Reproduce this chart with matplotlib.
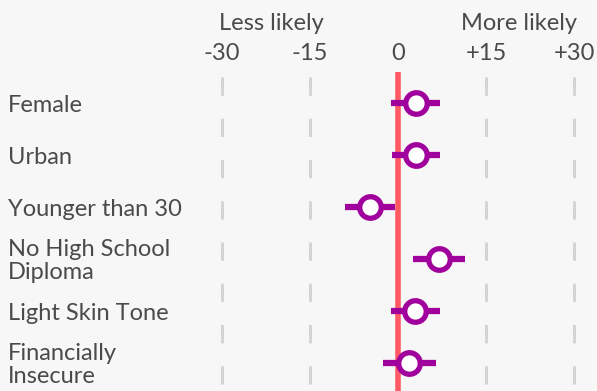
import matplotlib
matplotlib.use("Agg")
import matplotlib.pyplot as plt

categories = ["Female", "Urban", "Younger than 30", "No High School\nDiploma",
              "Light Skin Tone", "Financially\nInsecure"]
estimates = [3.1, 3.1, -4.8, 7.0, 2.9, 1.9]
ci_low = [-1.2, -1.0, -9.0, 2.6, -1.2, -2.6]
ci_high = [7.2, 7.2, -0.5, 11.4, 7.2, 6.5]
tick_values = [-30, -15, 0, 15, 30]
tick_labels = ["-30", "-15", "0", "+15", "+30"]

BG = "#f7f7f7"
TXT = "#4a4a4a"
RED = "#ff5964"
PURPLE = "#a0009b"
GRID = "#d4d4d4"

plt.rcParams['font.family'] = ['Lato', 'DejaVu Sans']

W, H = 597, 391
fig = plt.figure(figsize=(W / 100, H / 100), dpi=100, facecolor=BG)
ax = fig.add_axes([0, 0, 1, 1])
ax.set_facecolor(BG)
ax.axis('off')

# pixel mapping: x0 at 398px, 15 units = 88px; row0 at 103px, 52px per row
px_per_unit = 88 / 15
ax.set_xlim(-398 / px_per_unit, (W - 398) / px_per_unit)
ax.set_ylim((H - 103) / 52, -103 / 52)

def ypix(p):
    return (p - 103) / 52

ybottom = ypix(H + 5)
for v in tick_values:
    if v == 0:
        continue
    ax.plot([v, v], [ypix(77), ybottom], color=GRID, lw=2.2,
            linestyle=(0, (6, 7.5)), solid_capstyle='butt', zorder=1)
ax.plot([0, 0], [ypix(72), ybottom], color=RED, lw=4, zorder=2,
        solid_capstyle='butt')

rows = list(range(len(categories)))
for i in rows:
    ax.plot([ci_low[i], ci_high[i]], [i, i], color=PURPLE, lw=4.5,
            solid_capstyle='butt', zorder=3)
ax.plot(estimates, rows, 'o', ms=15.5, mfc='white', mec=PURPLE, mew=3.8,
        zorder=4, linestyle='none')

FS = 17
for i, c in enumerate(categories):
    ax.text(8 / W, i + 2 / 52, c, transform=ax.get_yaxis_transform(), ha='left',
            va='center', fontsize=FS, color=TXT, linespacing=1.15)

for v, t in zip(tick_values, tick_labels):
    ax.text(v, ypix(53), t, ha='center', va='center', fontsize=FS, color=TXT)
ax.text(-21.6, ypix(24), "Less likely", ha='center', va='center', fontsize=FS, color=TXT)
ax.text(20.6, ypix(24), "More likely", ha='center', va='center', fontsize=FS, color=TXT)

fig.savefig("out.png", dpi=100, facecolor=BG)
